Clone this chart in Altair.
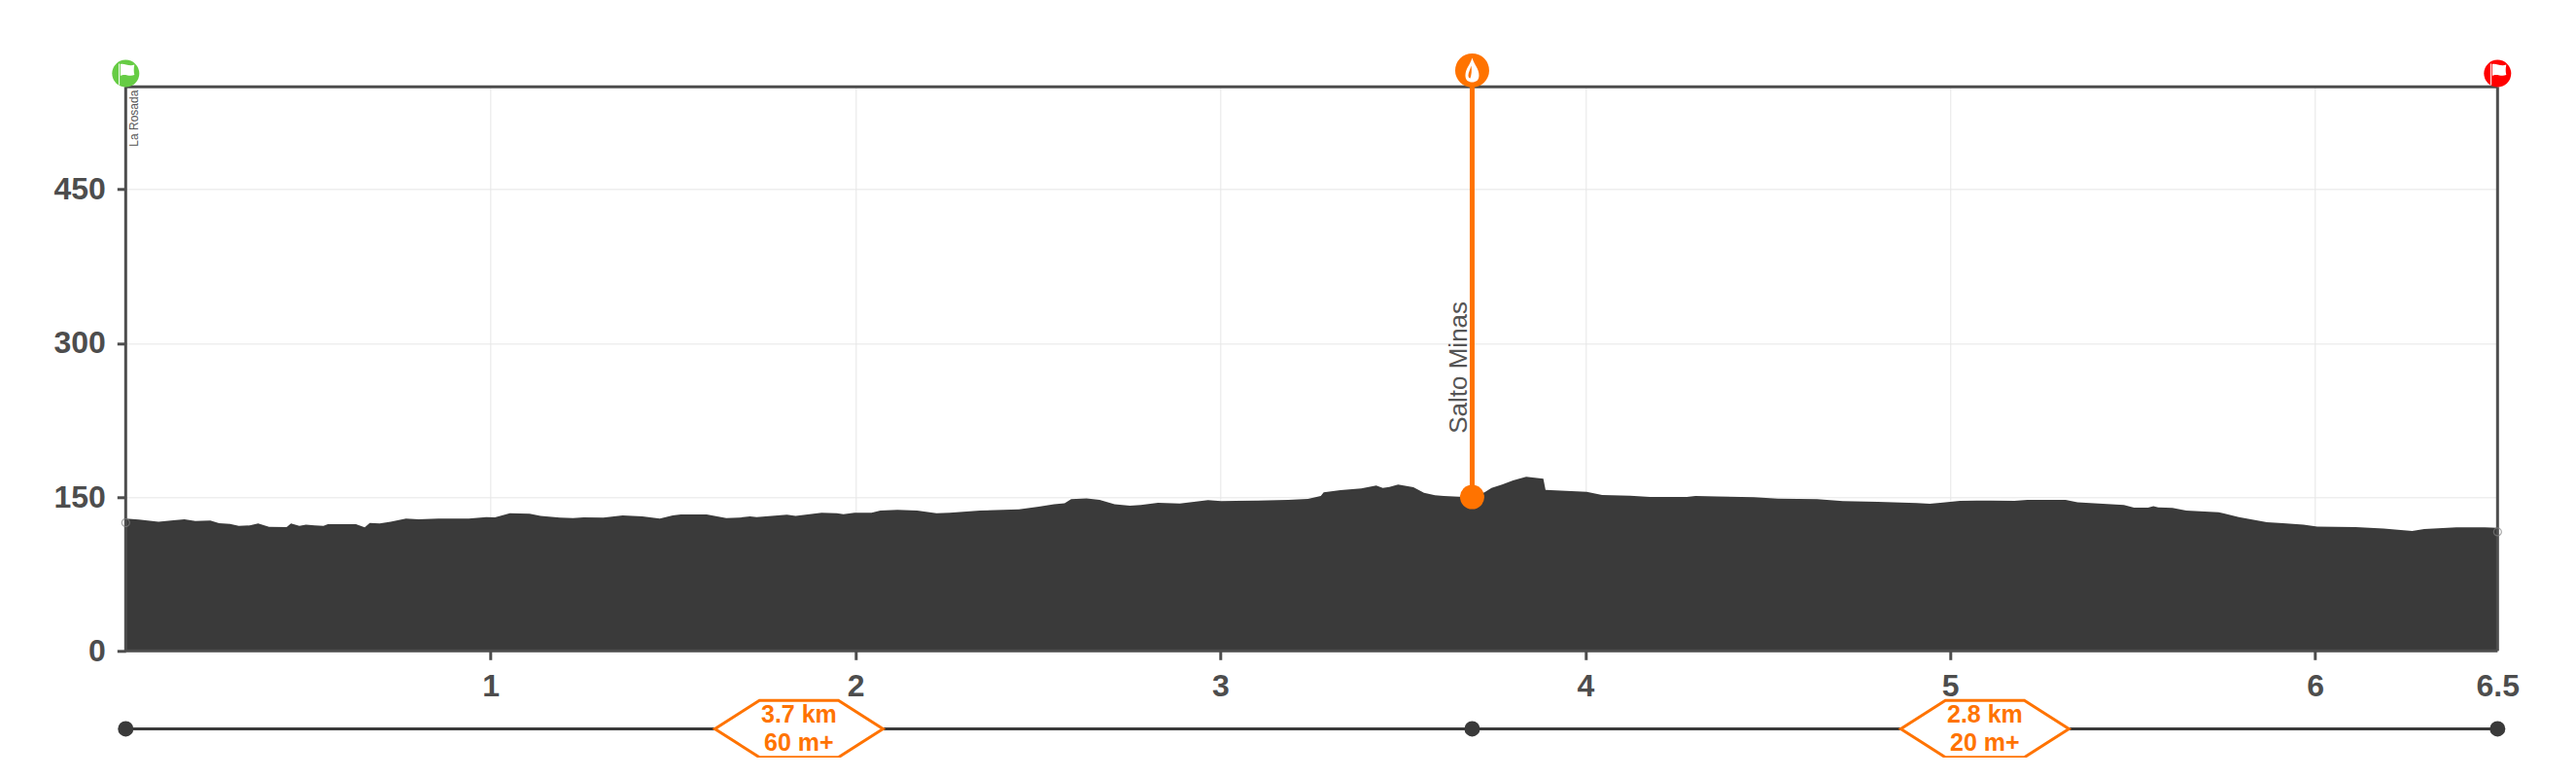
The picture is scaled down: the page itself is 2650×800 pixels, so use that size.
import altair as alt
import pandas as pd

km = [0.0,.036,.090,.131,.161,.191,.232,.256,.286,.310,.340,.363,.393,.441,.453,.476,.494,.518,.542,.554,.631,.655,.669,.696,.726,.768,.803,.857,.940,.988,1.012,1.053,1.107,1.137,1.190,1.226,1.255,1.309,1.362,1.416,1.464,1.499,
      1.521,1.592,1.646,1.681,1.711,1.729,1.812,1.836,1.907,1.949,1.967,1.997,2.044,2.068,2.115,2.169,2.222,2.258,2.341,2.448,2.502,2.544,2.573,2.591,2.633,2.669,2.710,2.752,2.782,2.829,2.889,2.966,3.002,3.103,3.186,3.240,3.275,3.283,3.329,
      3.386,3.427,3.445,3.463,3.487,3.529,3.558,3.588,3.612,3.653,3.690,3.725,3.743,3.772,3.802,3.838,3.879,3.885,3.891,4.004,4.046,4.123,4.177,4.278,4.302,4.361,4.462,4.528,4.635,4.706,4.801,4.908,4.944,4.980,5.027,5.111,5.176,5.212,
      5.251,5.316,5.349,5.476,5.504,5.542,5.557,5.570,5.609,5.647,5.736,5.791,5.868,5.912,5.968,6.006,6.111,6.188,6.266,6.299,6.387,6.465,6.500]
elev = [129,128,126,127.3,128.3,126.7,127,124.5,123.9,122,122.3,124.2,121,120.7,124.2,122,123.2,122.3,122,123.5,123.5,120.4,124.8,124.2,126,128.9,128.3,129,129,130.5,130.2,134.3,133.7,131.5,129.9,129.6,130.2,129.9,132,131.1,129,132,
        133,133,129.6,129.9,131.1,130.5,132.7,131.5,134.6,134.3,133.3,134.6,134.6,136.8,137.5,136.8,134.3,134.6,136.8,138,140.6,143,144,147.9,148.8,147.3,143.1,141.6,142.2,144.4,143.8,147,146,146.6,147.3,148.2,151,154.5,156.7,
        158.5,161.2,159,159.9,162.1,159.6,154.2,151.7,151,150.4,150,154.8,159,162.1,166.2,169.7,168.1,167.8,157,155.2,152,151.4,150.1,150.1,151,150.7,149.8,148.5,147.9,146,145.4,144.1,143.5,144.7,146.3,146.6,146.3,147.3,
        147.3,147.3,145,142.2,139.7,139.7,141.2,140,139.4,136.8,135.2,130.5,125.4,124.5,123.2,121.3,120.7,119.4,116.9,118.8,120.4,120.4,120]

y_ticks = [0, 150, 300, 450]
x_ticks = [1, 2, 3, 4, 5, 6, 6.5]
x_max, y_max = 6.5, 550

start_km, start_y, start_name = 0.0, 563, "La Rosada"
end_km, end_y = 6.5, 563
water_km, water_elev, water_icon_y, water_name = 3.69, 150, 566, "Salto Minas"
ring_km = [0.0, 6.5]
ring_elev = [125, 116]
bar_y = -76
node_km = [0.0, 3.69, 6.5]
seg_km = [1.845, 5.095]
seg_dist = ["3.7 km", "2.8 km"]
seg_gain = ["60 m+", "20 m+"]
dist_y = -62.3
gain_y = -89.8

DARK = "#3a3a3a"
AXIS = "#4d4d4d"
ORANGE = "#ff7300"
FONT = "Liberation Sans"

# px-unit paths (size=4 means 1 path unit = 1 px)
FLAG = "M-7.2,-10L-6.2,-10L-6.2,12L-7.2,12ZM-5.4,-9.5C-2,-11 3,-7 9,-9C8.2,-5 8.2,-2 9,1.5C3,3.5 -1,-0.5 -5.4,2.5Z"
DROP = "M0,-13C2,-6 7,-2 7,5C7,10 4,12 0,12C-4,12 -7,10 -7,5C-7,-2 -2,-6 0,-13Z"
DROP_IN = "M-1,-5C-2,-1 -4,2 -4,5C-4,7 -3,8 -2,8C-1,5 0,0 -1,-5Z"
HEX = "M-86.5,0L-40.6,-29.3L40.6,-29.3L86.5,0L40.6,29.3L-40.6,29.3Z"

x = alt.X("km:Q", scale=alt.Scale(domain=[0, x_max], nice=False, zero=False),
          axis=alt.Axis(values=x_ticks, title=None, labelFont=FONT, labelFontWeight="bold",
                        labelFontSize=32, labelColor=AXIS, labelPadding=12, labelBaseline="top",
                        tickSize=9, tickWidth=3,
                        tickColor={"condition": {"test": "datum.value == 6.5", "value": "transparent"}, "value": AXIS},
                        domain=False,
                        grid=True, gridColor="#e6e6e6", gridWidth=1, labelFlush=False, labelOverlap=False,
                        format="~g"))
y = alt.Y("elev:Q", scale=alt.Scale(domain=[0, y_max], nice=False, zero=False),
          axis=alt.Axis(values=y_ticks, title=None, labelFont=FONT, labelFontWeight="bold",
                        labelFontSize=32, labelColor=AXIS, labelPadding=12,
                        tickSize=9, tickWidth=3, tickColor=AXIS,
                        domain=False,
                        grid=True, gridColor="#e6e6e6", gridWidth=1, labelFlush=False))

profile = pd.DataFrame({"km": km, "elev": elev})
X = alt.X("km:Q")
Y = alt.Y("elev:Q")
Y2 = alt.Y2("elev2")
X2 = alt.X2("km2")

def pt(k, e, **more):
    return pd.DataFrame({"km": k, "elev": e, **more})

area = alt.Chart(profile).mark_area(color=DARK, interpolate="linear").encode(x=x, y=y)
vframe = alt.Chart(pt([0, x_max], [0, 0], elev2=[y_max, y_max])).mark_rule(color=AXIS, strokeWidth=3).encode(x=X, y=Y, y2=Y2)
hframe = alt.Chart(pt([0, 0], [0, y_max], km2=[x_max, x_max])).mark_rule(color=AXIS, strokeWidth=3).encode(x=X, x2=X2, y=Y)
rings = alt.Chart(pt(ring_km, ring_elev)).mark_point(shape="circle", size=64, filled=False, stroke="#808080", strokeWidth=1.2).encode(x=X, y=Y)
water_rule = alt.Chart(pt([water_km], [y_max], elev2=[water_elev])).mark_rule(color=ORANGE, strokeWidth=5).encode(x=X, y=Y, y2=Y2)
water_dot = alt.Chart(pt([water_km], [water_elev])).mark_point(shape="circle", size=625, filled=True, color=ORANGE, opacity=1).encode(x=X, y=Y)
water_txt = alt.Chart(pt([water_km], [212], t=[water_name])).mark_text(angle=270, align="left", baseline="alphabetic", font=FONT, fontSize=26, color="#555555", dy=-5.3).encode(x=X, y=Y, text="t:N")
start_icon = alt.Chart(pt([start_km], [start_y])).mark_point(shape="circle", size=784, filled=True, color="#66cc44", opacity=1).encode(x=X, y=Y)
end_icon = alt.Chart(pt([end_km], [end_y])).mark_point(shape="circle", size=784, filled=True, color="#ff0000", opacity=1).encode(x=X, y=Y)
flags = alt.Chart(pt([start_km, end_km], [start_y, end_y])).mark_point(shape=FLAG, size=4, filled=True, color="#ffffff", opacity=1).encode(x=X, y=Y)
water_icon = alt.Chart(pt([water_km], [water_icon_y])).mark_point(shape="circle", size=1225, filled=True, color=ORANGE, opacity=1).encode(x=X, y=Y)
drop = alt.Chart(pt([water_km], [water_icon_y])).mark_point(shape=DROP, size=4, filled=True, color="#ffffff", opacity=1).encode(x=X, y=Y)
drop_in = alt.Chart(pt([water_km], [water_icon_y])).mark_point(shape=DROP_IN, size=4, filled=True, color=ORANGE, opacity=1).encode(x=X, y=Y)
start_txt = alt.Chart(pt([start_km], [546.8], t=[start_name])).mark_text(angle=270, align="right", baseline="alphabetic", font=FONT, fontSize=12, color="#555555", dy=12.4).encode(x=X, y=Y, text="t:N")

bar = alt.Chart(pt([0.0, x_max], [bar_y, bar_y])).mark_line(color=DARK, strokeWidth=3).encode(x=X, y=Y)
nodes = alt.Chart(pt(node_km, [bar_y]*3)).mark_point(shape="circle", size=256, filled=True, color=DARK, opacity=1).encode(x=X, y=Y)
hexes = alt.Chart(pt(seg_km, [bar_y]*2)).mark_point(shape=HEX, size=4, filled=True, fill="#ffffff", stroke=ORANGE, strokeWidth=3, opacity=1).encode(x=X, y=Y)
dist = alt.Chart(pt(seg_km, [dist_y]*2, t=seg_dist)).mark_text(font=FONT, fontWeight="bold", fontSize=25, color=ORANGE).encode(x=X, y=Y, text="t:N")
gain = alt.Chart(pt(seg_km, [gain_y]*2, t=seg_gain)).mark_text(font=FONT, fontWeight="bold", fontSize=25, color=ORANGE).encode(x=X, y=Y, text="t:N")

chart = alt.layer(area, vframe, hframe, rings, water_rule, water_dot, water_txt, start_txt, start_icon, end_icon, flags,
                  water_icon, drop, drop_in, bar, nodes, hexes, dist, gain).properties(
    width=2440, height=580,
    autosize=alt.AutoSizeParams(type="none"),
    padding={"left": 121.3, "top": 81.3, "right": 70, "bottom": 110},
).configure_view(stroke=None).configure(background="#ffffff")

chart.save("out.html", embed_options={"renderer": "svg", "actions": False})
